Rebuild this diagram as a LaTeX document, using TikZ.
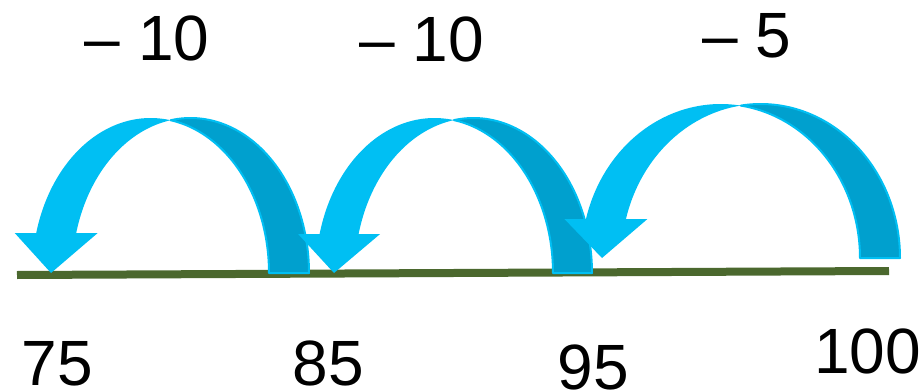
\documentclass[tikz,border=0pt]{standalone}
\usepackage{fontspec}
\setmainfont{Liberation Sans}
\definecolor{arrlight}{RGB}{0,191,243}
\definecolor{arrdark}{RGB}{0,160,206}
\definecolor{linegreen}{RGB}{75,104,46}
\tikzset{
  backpart/.style={fill=arrdark,draw=arrlight,line width=2pt,line join=round},
  frontpart/.style={fill=arrlight},
  numline/.style={draw=linegreen,line width=8pt},
  lbl/.style={inner sep=0pt,anchor=base,font=\fontsize{64}{70}\selectfont}
}
% #1 tail outer x, #2 thickness, #3 x radius, #4 height, #5 base y,
% #6 head base y, #7 head half width, #8 tip x
\newcommand\jumparrow[8]{%
  \pgfmathsetmacro\jaCa{#1-#3}%
  \pgfmathsetmacro\jaCb{#1-#2-#3}%
  \pgfmathsetmacro\jaTa{acos(-#2/(2*#3))}%
  \pgfmathsetmacro\jaTb{acos(#2/(2*#3))}%
  \pgfmathsetmacro\jaTh{180-asin((#5-#6)/#4)}%
  \pgfmathsetmacro\jaXb{\jaCb+#3*cos(\jaTh)}%
  \pgfmathsetmacro\jaXa{\jaCa+#3*cos(\jaTh)}%
  \pgfmathsetmacro\jaHc{(\jaXa+\jaXb)/2}%
  \filldraw[backpart] plot[domain=0:\jaTa,samples=60] ({\jaCa+#3*cos(\x)},{#5-#4*sin(\x)})
     -- plot[domain=\jaTb:0,samples=60] ({\jaCb+#3*cos(\x)},{#5-#4*sin(\x)}) -- cycle;
  \fill[frontpart] plot[domain=\jaTb:\jaTh,samples=60] ({\jaCb+#3*cos(\x)},{#5-#4*sin(\x)})
     -- ({\jaHc-#7},#6) -- (#8,#5) -- ({\jaHc+#7},#6)
     -- plot[domain=\jaTh:\jaTa,samples=60] ({\jaCa+#3*cos(\x)},{#5-#4*sin(\x)}) -- cycle;
}
\begin{document}
\begin{tikzpicture}[x=1pt,y=-1pt]
\useasboundingbox (0,0) rectangle (922,391);
\coordinate (lineL) at (17,275);
\coordinate (lineR) at (889,271);
\draw[numline] (lineL) -- (lineR);
\jumparrow{309}{40}{118.4}{155}{273}{233}{41.5}{51}
\jumparrow{592}{39}{118.6}{155}{273}{234}{41}{334}
\jumparrow{900}{40}{139.3}{154}{258}{219}{41.5}{602}
\node[lbl] (m1) at (147,60) {– 10};
\node[lbl] (m2) at (421.5,61) {– 10};
\node[lbl] (m3) at (746.5,57) {– 5};
\node[lbl] (n75) at (57.5,385) {75};
\node[lbl] (n85) at (328.5,385) {85};
\node[lbl] (n95) at (593.5,389) {95};
\node[lbl] (n100) at (867.5,373) {100};
\end{tikzpicture}
\end{document}
